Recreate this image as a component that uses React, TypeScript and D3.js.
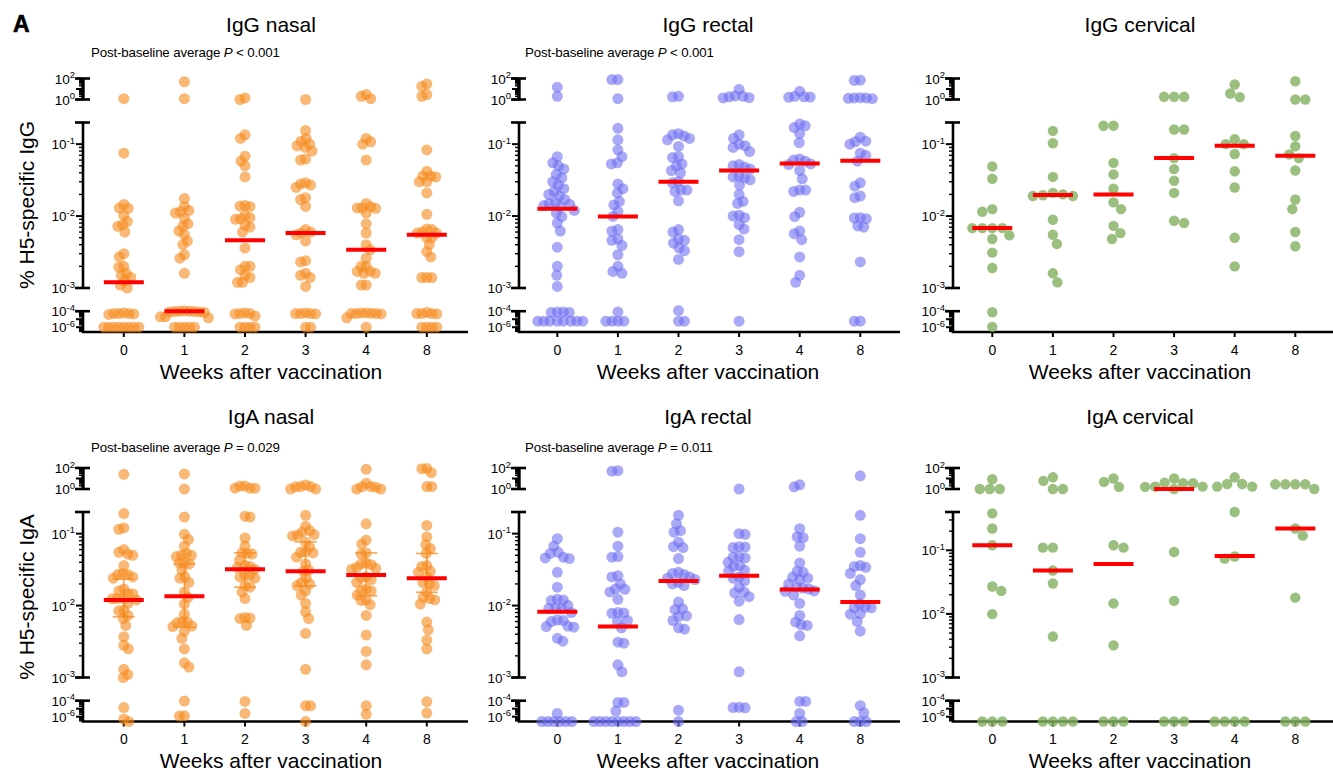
import React from 'react';
import * as d3 from 'd3';

// ---------- data ----------
const weeks = ['0', '1', '2', '3', '4', '8'];
const panelTitles = ['IgG nasal', 'IgG rectal', 'IgG cervical', 'IgA nasal', 'IgA rectal', 'IgA cervical'];
const pValues: (string | null)[] = ['< 0.001', '< 0.001', null, '= 0.029', '= 0.011', null];
const yTitles = ['% H5-specific IgG', '% H5-specific IgA'];
const xTitle = 'Weeks after vaccination';

const iggNasal: number[][] = [
  [1.2, 0.075, 0.0145, 0.013, 0.0128, 0.0102, 0.0084, 0.0076, 0.0072, 0.006, 0.003, 0.0027, 0.002, 0.00195, 0.0016, 0.0015, 0.0014, 0.00125, 0.0011, 0.001,
    6e-5, 5e-5, 5e-5, 4.5e-5, 5e-5, 4e-5, 1e-6, 1e-6, 1e-6, 1e-6, 1e-6, 1e-6, 1e-6, 1e-6],
  [49, 1.2, 0.0175, 0.0135, 0.012, 0.0115, 0.011, 0.0093, 0.0078, 0.0072, 0.0062, 0.0055, 0.0045, 0.004, 0.0029, 0.0026, 0.0016,
    1.1e-4, 1e-4, 1e-4, 9e-5, 9e-5, 8e-5, 8e-5, 7e-5, 2e-5, 2e-5, 1.5e-5, 1e-6, 1e-6, 1e-6, 1e-6, 1e-6],
  [1.4, 1.0, 0.135, 0.12, 0.068, 0.058, 0.05, 0.035, 0.014, 0.0138, 0.0135, 0.0102, 0.0095, 0.0092, 0.009, 0.0075, 0.007, 0.006, 0.0036, 0.002, 0.002, 0.0018, 0.0015, 0.0014, 0.0012, 0.0012,
    6e-5, 5e-5, 5e-5, 4.5e-5, 2.5e-5, 1e-6, 1e-6, 1e-6, 1e-6],
  [1.0, 0.155, 0.12, 0.11, 0.1, 0.095, 0.09, 0.08, 0.062, 0.06, 0.029, 0.028, 0.027, 0.025, 0.018, 0.017, 0.0136, 0.0065, 0.006, 0.0058, 0.0055, 0.0045, 0.0024, 0.0023, 0.0016, 0.0015, 0.0014, 0.00105,
    6e-5, 5e-5, 5e-5, 5e-5, 4.5e-5, 1e-6, 1e-6],
  [3.0, 2.0, 1.2, 0.12, 0.108, 0.1, 0.06, 0.015, 0.0135, 0.013, 0.0128, 0.013, 0.011, 0.0078, 0.0058, 0.004, 0.0034, 0.0026, 0.002, 0.002, 0.0017, 0.0017, 0.0016, 0.0016, 0.0011, 0.0011,
    6e-5, 6e-5, 5.5e-5, 5e-5, 5e-5, 5e-5, 4.5e-5, 1.5e-5, 1e-6],
  [30, 18, 3.0, 2.0, 0.083, 0.042, 0.036, 0.036, 0.035, 0.03, 0.03, 0.021, 0.0106, 0.0066, 0.0065, 0.006, 0.0058, 0.0058, 0.005, 0.005, 0.004, 0.0032, 0.0027, 0.0014, 0.0014, 0.0014,
    7e-5, 5e-5, 5e-5, 5e-5, 4.5e-5, 1e-6, 1e-6, 1e-6, 1e-6],
];
const iggNasalMedian = [0.0012, 1e-4, 0.0046, 0.0058, 0.0034, 0.0055];

const iggRectal: number[][] = [
  [15, 2, 0.067, 0.055, 0.05, 0.045, 0.038, 0.034, 0.03, 0.027, 0.024, 0.022, 0.02, 0.019, 0.017, 0.0155, 0.015, 0.0145, 0.014, 0.0135, 0.012, 0.011, 0.0098, 0.008, 0.0062, 0.0037, 0.002, 0.0015, 0.00105,
    8e-5, 8e-5, 7e-5, 7e-5, 5.6e-6, 5.6e-6, 5.6e-6, 5.6e-6, 5.6e-6, 5.6e-6, 5.6e-6, 5.6e-6],
  [80, 80, 1.2, 0.166, 0.115, 0.083, 0.067, 0.055, 0.053, 0.028, 0.024, 0.021, 0.016, 0.0143, 0.0116, 0.0099, 0.0065, 0.0062, 0.0048, 0.0046, 0.0039, 0.0029, 0.002, 0.0017, 0.0016,
    8e-5, 5.6e-6, 5.6e-6, 5.6e-6, 5.6e-6],
  [2.0, 1.8, 0.14, 0.12, 0.13, 0.115, 0.135, 0.093, 0.067, 0.065, 0.053, 0.05, 0.043, 0.04, 0.03, 0.029, 0.023, 0.023, 0.022, 0.0163, 0.0065, 0.006, 0.0048, 0.0046, 0.0042, 0.0036, 0.0033, 0.0025,
    1.2e-4, 5.6e-6, 5.6e-6],
  [9, 2.2, 2.0, 1.8, 1.5, 1.4, 0.135, 0.12, 0.1, 0.095, 0.09, 0.079, 0.052, 0.05, 0.048, 0.045, 0.036, 0.035, 0.034, 0.032, 0.027, 0.02, 0.016, 0.015, 0.0103, 0.01, 0.0095, 0.0076, 0.0066, 0.0047, 0.0032,
    5.6e-6],
  [6, 2.0, 1.7, 1.6, 1.8, 0.19, 0.18, 0.17, 0.14, 0.105, 0.062, 0.06, 0.058, 0.053, 0.052, 0.043, 0.033, 0.023, 0.023, 0.022, 0.0113, 0.0098, 0.0062, 0.0057, 0.0047, 0.0027, 0.0015, 0.0012],
  [70, 65, 1.5, 1.4, 1.3, 1.4, 1.2, 0.125, 0.11, 0.108, 0.1, 0.075, 0.07, 0.058, 0.029, 0.026, 0.019, 0.018, 0.0095, 0.0094, 0.0092, 0.0073, 0.007, 0.0023,
    5.6e-6, 5.6e-6],
];
const iggRectalMedian = [0.0126, 0.0099, 0.03, 0.043, 0.054, 0.059];

const iggCervical: number[][] = [
  [0.049, 0.033, 0.0125, 0.0115, 0.0068, 0.0068, 0.0068, 0.0068, 0.0054, 0.0048, 0.0031, 0.0019, 7.5e-5, 1.1e-6],
  [0.153, 0.103, 0.035, 0.021, 0.02, 0.019, 0.0195, 0.019, 0.0089, 0.0055, 0.0041, 0.0016, 0.0012],
  [0.18, 0.18, 0.055, 0.038, 0.024, 0.0155, 0.0125, 0.0073, 0.0058, 0.0048],
  [1.8, 1.8, 1.8, 0.16, 0.16, 0.064, 0.045, 0.031, 0.021, 0.0086, 0.008],
  [27, 3.7, 1.7, 0.117, 0.1, 0.1, 0.073, 0.042, 0.025, 0.005, 0.002],
  [55, 1.0, 1.0, 0.13, 0.093, 0.072, 0.064, 0.043, 0.017, 0.0125, 0.006, 0.0038],
];
const iggCervicalMedian = [0.0068, 0.0197, 0.02, 0.064, 0.095, 0.069];

const igaNasal: number[][] = [
  [25, 0.19, 0.12, 0.115, 0.06, 0.055, 0.052, 0.05, 0.036, 0.028, 0.027, 0.027, 0.025, 0.024, 0.017, 0.016, 0.0147, 0.0145, 0.0125, 0.0125, 0.0124, 0.012, 0.0107, 0.0086, 0.0085, 0.0073, 0.0066, 0.0053, 0.0037, 0.0028, 0.0025, 0.0013, 0.0011, 0.001,
    1.4e-5, 5e-7, 2.5e-7],
  [27, 1.0, 0.17, 0.098, 0.083, 0.067, 0.053, 0.05, 0.05, 0.048, 0.039, 0.039, 0.038, 0.031, 0.025, 0.024, 0.021, 0.0155, 0.013, 0.0105, 0.0076, 0.006, 0.0059, 0.0058, 0.0052, 0.0051, 0.0044, 0.0035, 0.0025, 0.0016, 0.0014,
    9e-5, 1.3e-6, 1.2e-6],
  [1.9, 1.9, 1.2, 1.2, 1.2, 0.175, 0.17, 0.087, 0.067, 0.054, 0.053, 0.052, 0.043, 0.036, 0.035, 0.034, 0.032, 0.027, 0.026, 0.025, 0.024, 0.019, 0.018, 0.0155, 0.0125, 0.0068, 0.0067, 0.0066, 0.0053,
    8e-5, 2.6e-6],
  [2.4, 1.7, 1.6, 1.0, 1.0, 1.7, 0.18, 0.127, 0.11, 0.105, 0.097, 0.095, 0.093, 0.076, 0.065, 0.056, 0.055, 0.054, 0.047, 0.038, 0.031, 0.03, 0.024, 0.021, 0.02, 0.019, 0.016, 0.014, 0.0107, 0.0082, 0.0066, 0.0041, 0.0013,
    2.4e-5, 2.3e-5, 2.5e-7],
  [75, 3.5, 1.7, 1.6, 1.5, 1.0, 1.0, 0.137, 0.081, 0.072, 0.054, 0.052, 0.039, 0.038, 0.037, 0.034, 0.033, 0.032, 0.025, 0.024, 0.023, 0.021, 0.017, 0.0163, 0.016, 0.014, 0.012, 0.0118, 0.0103, 0.0073, 0.0039, 0.0023, 0.0015,
    2.4e-5, 2e-6],
  [90, 85, 36, 1.7, 1.7, 0.13, 0.09, 0.07, 0.062, 0.053, 0.036, 0.035, 0.03, 0.029, 0.025, 0.021, 0.02, 0.019, 0.0155, 0.013, 0.0125, 0.012, 0.0105, 0.0059, 0.0046, 0.0033, 0.0025,
    7.5e-5, 2.8e-6],
];
const igaNasalMedian = [0.012, 0.0135, 0.032, 0.03, 0.0267, 0.024];
const igaNasalQ1 = [0.007, 0.005, 0.018, 0.0188, 0.0137, 0.0153];
const igaNasalQ3 = [0.0233, 0.038, 0.054, 0.077, 0.054, 0.053];

const igaRectal: number[][] = [
  [0.085, 0.067, 0.055, 0.053, 0.047, 0.046, 0.045, 0.029, 0.018, 0.0122, 0.012, 0.0118, 0.0101, 0.0092, 0.0091, 0.009, 0.008, 0.0063, 0.0062, 0.006, 0.0052, 0.0051, 0.005, 0.0035, 0.0032,
    2.6e-6, 2.5e-7, 2.5e-7, 2.5e-7, 2.5e-7, 2.5e-7, 2.5e-7],
  [55, 50, 0.105, 0.067, 0.048, 0.047, 0.026, 0.025, 0.02, 0.017, 0.0168, 0.0155, 0.0122, 0.008, 0.0079, 0.0078, 0.0062, 0.006, 0.0049, 0.0031, 0.003, 0.0015, 0.0012,
    6e-5, 6e-5, 5e-6, 2.5e-7, 2.5e-7, 2.5e-7, 2.5e-7, 2.5e-7, 2.5e-7, 2.5e-7, 2.5e-7],
  [0.18, 0.137, 0.11, 0.105, 0.076, 0.066, 0.064, 0.045, 0.029, 0.028, 0.027, 0.025, 0.024, 0.023, 0.021, 0.02, 0.019, 0.0112, 0.009, 0.0088, 0.0072, 0.007, 0.0062, 0.0049, 0.0047,
    6.5e-6, 2.5e-7],
  [1.0, 0.1, 0.098, 0.066, 0.065, 0.064, 0.048, 0.047, 0.046, 0.04, 0.036, 0.035, 0.031, 0.03, 0.025, 0.024, 0.022, 0.018, 0.0155, 0.015, 0.0133, 0.0115, 0.0064, 0.0012,
    1.5e-5, 1.4e-5, 1.3e-5],
  [2.5, 1.6, 0.117, 0.09, 0.088, 0.067, 0.039, 0.03, 0.029, 0.025, 0.024, 0.023, 0.02, 0.018, 0.0175, 0.017, 0.016, 0.0158, 0.014, 0.0107, 0.0073, 0.0059, 0.0054, 0.0053, 0.0038,
    8e-5, 8e-5, 2.6e-6, 2.5e-7, 2.5e-7],
  [18, 0.18, 0.085, 0.055, 0.036, 0.035, 0.034, 0.028, 0.023, 0.019, 0.014, 0.0105, 0.0095, 0.0094, 0.0093, 0.0077, 0.0076, 0.006, 0.0044,
    2.4e-5, 3e-6, 2.5e-7, 2.5e-7, 2.5e-7],
];
const igaRectalMedian = [0.0082, 0.0051, 0.022, 0.026, 0.0167, 0.0112];

const igaCervical: number[][] = [
  [8.5, 1.0, 1.0, 1.0, 0.38, 0.22, 0.12, 0.027, 0.023, 0.0099, 2.5e-7, 2.5e-7, 2.5e-7],
  [13, 6, 1.0, 1.0, 0.11, 0.11, 0.048, 0.03, 0.0044, 2.5e-7, 2.5e-7, 2.5e-7, 2.5e-7],
  [10, 4.7, 1.6, 0.12, 0.11, 0.0146, 0.0032, 2.5e-7, 2.5e-7, 2.5e-7],
  [10, 4, 3.5, 3.5, 1.7, 1.7, 1.0, 1.6, 0.094, 0.016, 2.5e-7, 2.5e-7, 2.5e-7],
  [13, 3, 3, 1.7, 1.7, 0.4, 0.08, 0.074, 2.5e-7, 2.5e-7, 2.5e-7, 2.5e-7],
  [2.8, 2.8, 2.8, 2.8, 1.0, 0.22, 0.17, 0.018, 2.5e-7, 2.5e-7, 2.5e-7],
];
const igaCervicalMedian = [0.12, 0.048, 0.061, 1.0, 0.081, 0.22];

const panelData = [iggNasal, iggRectal, iggCervical, igaNasal, igaRectal, igaCervical];
const panelMedians = [iggNasalMedian, iggRectalMedian, iggCervicalMedian, igaNasalMedian, igaRectalMedian, igaCervicalMedian];
const panelMidMax = [0.2, 0.2, 0.2, 0.2, 0.2, 0.4];

// ---------- layout / style ----------
const W = 1333, H = 771;
const FONT = "'Liberation Sans', Arial, Helvetica, sans-serif";
const rowAxisY = [332, 721.5];
const rowTitleY = [32, 424];
const rowPY = [57, 452];
const rowTickLabelY = [355, 744];
const rowXLabelY = [379, 768];
const rowYLabelCY = [205, 597];
const colAxisX = [83, 519, 953];
const colFirst = [123.8, 557.3, 992.3];
const colStep = 60.6;
const colXEnd = [468, 900, 1333];
const colTitleCX = [271, 708, 1140];
const colPX = [91, 525];
const colFill = ['#f5891a', '#6b6bf2', '#84b163'];
const colOpacity = [0.6, 0.58, 0.82];
const colRadius = [5.5, 5.5, 5.2];
const colGapX = [4.8, 5.6, 10];
const colGapY = [8, 9, 10];

// anisotropic beeswarm: same-row points keep gx apart, rows > gy apart do not interact
function swarm(ys: number[], gx: number, gy: number): number[] {
  const order = ys.map((_, i) => i).sort((a, b) => ys[a] - ys[b]);
  const placed: { x: number; y: number }[] = [];
  const xs = new Array(ys.length).fill(0);
  for (const i of order) {
    const y = ys[i];
    let chosen = 0;
    const flip = placed.length % 2 === 1;
    outer: for (let k = 0; k < 400; k++) {
      const c = k * 0.5;
      const cands = k === 0 ? [0] : flip ? [-c, c] : [c, -c];
      for (const cx of cands) {
        let ok = true;
        for (const p of placed) {
          const dx = (p.x - cx) / gx, dy = (p.y - y) / gy;
          if (dx * dx + dy * dy < 0.999) { ok = false; break; }
        }
        if (ok) { chosen = cx; break outer; }
      }
    }
    placed.push({ x: chosen, y });
    xs[i] = chosen;
  }
  return xs;
}

function Pow({ x, y, exp, size = 13.5 }: { x: number; y: number; exp: string; size?: number }) {
  return (
    <text x={x} y={y + 5} textAnchor="end" fontSize={size} fontFamily={FONT} fill="#000">
      10<tspan dy={-5.5} fontSize={size * 0.7}>{exp}</tspan>
    </text>
  );
}

function Panel({ idx }: { idx: number }) {
  const row = Math.floor(idx / 3);
  const col = idx % 3;
  const axisY = rowAxisY[row];
  const axisX = colAxisX[col];
  const data = panelData[idx];
  const medians = panelMedians[idx];
  const midMax = panelMidMax[idx];

  const topScale = d3.scaleLog().domain([1, 100]).range([axisY - 232.5, axisY - 253.5]);
  const midScale = d3.scaleLog().domain([1e-3, midMax]).range([axisY - 44, axisY - 209.5]);
  const botScale = d3.scaleLog().domain([Math.pow(10, -6.6), 1e-4]).range([axisY, axisY - 20.8]);
  const yOf = (v: number) => (v >= 0.5 ? topScale(v) : v >= 9e-4 ? midScale(v) : botScale(v));

  const x = d3.scalePoint<string>().domain(weeks).range([colFirst[col], colFirst[col] + 5 * colStep]);

  const segs: { scale: d3.ScaleLogarithmic<number, number>; lo: number; hi: number; labels: [number, string][]; capBottom: boolean }[] = [
    { scale: topScale, lo: 1, hi: 100, labels: [[100, '2'], [1, '0']], capBottom: true },
    { scale: midScale, lo: 1e-3, hi: midMax, labels: [[0.1, '-1'], [0.01, '-2'], [0.001, '-3']], capBottom: true },
    { scale: botScale, lo: Math.pow(10, -6.6), hi: 1e-4, labels: [[1e-4, '-4'], [1e-6, '-6']], capBottom: false },
  ];

  const axisEls: React.ReactNode[] = [];
  segs.forEach((s, si) => {
    const yTop = s.scale(s.hi);
    const yBot = s.scale(s.lo);
    axisEls.push(<line key={`v${si}`} x1={axisX} x2={axisX} y1={yTop} y2={yBot} stroke="#000" strokeWidth={si === 0 ? 3.4 : 2.6} />);
    axisEls.push(<line key={`ct${si}`} x1={axisX - 8} x2={axisX + 7} y1={yTop} y2={yTop} stroke="#000" strokeWidth={2.6} />);
    if (s.capBottom) axisEls.push(<line key={`cb${si}`} x1={axisX - 8} x2={axisX + 7} y1={yBot} y2={yBot} stroke="#000" strokeWidth={2.6} />);
    for (let e = -7; e <= 2; e++) {
      for (let m = 1; m <= 9; m++) {
        const v = m * Math.pow(10, e);
        if (v < s.lo * 0.999 || v > s.hi * 1.001) continue;
        const major = m === 1;
        const len = major ? 7 : 4;
        axisEls.push(
          <line key={`t${si}_${e}_${m}`} x1={axisX - len} x2={axisX} y1={s.scale(v)} y2={s.scale(v)} stroke="#000" strokeWidth={major ? 2 : 1.4} />
        );
      }
    }
    s.labels.forEach(([v, ex]) => {
      axisEls.push(<Pow key={`l${si}_${ex}`} x={axisX - 8} y={s.scale(v)} exp={ex} />);
    });
  });

  axisEls.push(<line key="xa" x1={axisX - 1.3} x2={colXEnd[col]} y1={axisY} y2={axisY} stroke="#000" strokeWidth={2.6} />);
  weeks.forEach((w) => {
    axisEls.push(<line key={`xt${w}`} x1={x(w)!} x2={x(w)!} y1={axisY} y2={axisY + 5} stroke="#000" strokeWidth={2} />);
    axisEls.push(
      <text key={`xl${w}`} x={x(w)!} y={rowTickLabelY[row]} textAnchor="middle" fontSize={14} fontFamily={FONT}>{w}</text>
    );
  });

  const points: React.ReactNode[] = [];
  data.forEach((vals, wi) => {
    const ys = vals.map(yOf);
    const offs = swarm(ys, colGapX[col], colGapY[col]);
    const cx = x(weeks[wi])!;
    ys.forEach((yy, j) => {
      points.push(
        <circle key={`p${wi}_${j}`} cx={cx + offs[j]} cy={yy} r={colRadius[col]} fill={colFill[col]} fillOpacity={colOpacity[col]} />
      );
    });
  });

  const errBars: React.ReactNode[] = [];
  if (idx === 3) {
    weeks.forEach((w, wi) => {
      const cx = x(w)!;
      const y1 = yOf(igaNasalQ1[wi]);
      const y3 = yOf(igaNasalQ3[wi]);
      errBars.push(
        <g key={`e${w}`} stroke="#f5891a" strokeOpacity={0.75} strokeWidth={1.6}>
          <line x1={cx} x2={cx} y1={y1} y2={y3} />
          <line x1={cx - 11} x2={cx + 11} y1={y1} y2={y1} />
          <line x1={cx - 11} x2={cx + 11} y1={y3} y2={y3} />
        </g>
      );
    });
  }

  const meds = medians.map((m, wi) => {
    const cx = x(weeks[wi])!;
    const yy = yOf(m);
    return <line key={`m${wi}`} x1={cx - 20} x2={cx + 20} y1={yy} y2={yy} stroke="#ff0000" strokeWidth={4} />;
  });

  const p = pValues[idx];
  return (
    <g>
      <text x={colTitleCX[col]} y={rowTitleY[row]} textAnchor="middle" fontSize={21} fontFamily={FONT}>{panelTitles[idx]}</text>
      {p && (
        <text x={colPX[col]} y={rowPY[row]} fontSize={13.3} fontFamily={FONT} letterSpacing={-0.15}>
          Post-baseline average <tspan fontStyle="italic">P</tspan> {p}
        </text>
      )}
      {axisEls}
      {points}
      {errBars}
      {meds}
      <text x={colTitleCX[col]} y={rowXLabelY[row]} textAnchor="middle" fontSize={21} fontFamily={FONT}>{xTitle}</text>
      {col === 0 && (
        <text transform={`translate(33.5,${rowYLabelCY[row]}) rotate(-90)`} textAnchor="middle" fontSize={21} fontFamily={FONT}>
          {yTitles[row]}
        </text>
      )}
    </g>
  );
}

export default function App() {
  return (
    <svg width={W} height={H} style={{ position: 'absolute', left: 0, top: 0, background: '#fff' }}>
      <rect width={W} height={H} fill="#fff" />
      <text x={13} y={32} fontSize={23} fontWeight="bold" fontFamily={FONT} stroke="#000" strokeWidth={0.6}>A</text>
      {[0, 1, 2, 3, 4, 5].map((i) => <Panel key={i} idx={i} />)}
    </svg>
  );
}
